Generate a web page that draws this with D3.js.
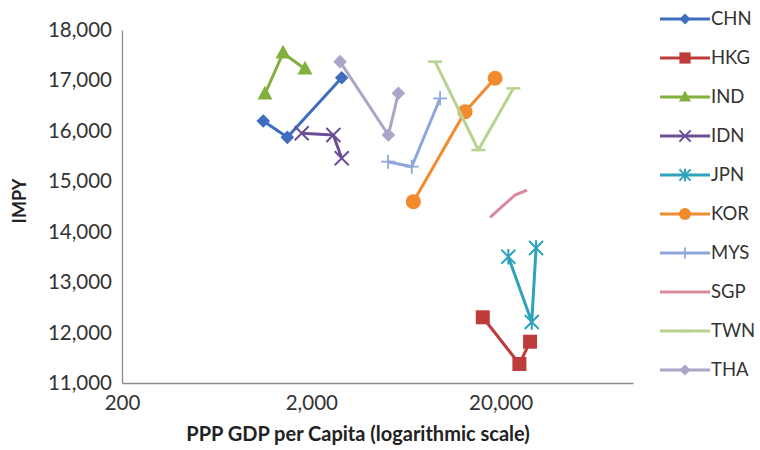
<!DOCTYPE html>
<html><head><meta charset="utf-8">
<script src="https://cdn.jsdelivr.net/npm/d3@7"></script>
<style>body{margin:0;background:#fff}svg{display:block}</style>
</head><body><svg id="c" width="760" height="450"></svg>
<script>
// ---- data ----
const seriesNames = ["CHN","HKG","IND","IDN","JPN","KOR","MYS","SGP","TWN","THA"];
const chnX = [1115, 1494, 2894],  chnY = [16196, 15872, 17054];
const hkgX = [16090, 25120, 28600], hkgY = [12303, 11377, 11819];
const indX = [1138, 1418, 1852],  indY = [16731, 17544, 17227];
const idnX = [1779, 2614, 2894],  idnY = [15952, 15918, 15456];
const jpnX = [21960, 29200, 30760], jpnY = [13505, 12210, 13677];
const korX = [6916, 12972, 18686], korY = [14596, 16380, 17042];
const mysX = [5085, 6784, 9572],  mysY = [15389, 15289, 16646];
const sgpX = [17580, 23840, 27580], sgpY = [14286, 14728, 14827];
const twnX = [9008, 15248, 23350], twnY = [17372, 15620, 16843];
const thaX = [2836, 5104, 5764],  thaY = [17372, 15918, 16745];
const xTicks = [200, 2000, 20000];
const yTicks = [11000, 12000, 13000, 14000, 15000, 16000, 17000, 18000];

const seriesX = [chnX,hkgX,indX,idnX,jpnX,korX,mysX,sgpX,twnX,thaX];
const seriesY = [chnY,hkgY,indY,idnY,jpnY,korY,mysY,sgpY,twnY,thaY];
const colors = ["#3E6DBE","#BE3B3B","#82B03E","#6B4E96","#2EA3BC","#F28B2E","#8EA7DB","#DA8A9C","#B8D290","#A9A6C8"];
const markers = ["diamond","square","triangle","x","star","circle","plus","none","dash","diamond"];

// ---- chart ----
const svg = d3.select("#c");
const font = "Lato, 'Open Sans', sans-serif";
const x = d3.scaleLog().domain([200, 100000]).range([122, 633]);
const y = d3.scaleLinear().domain([11000, 18000]).range([383, 30]);
const fmt = d3.format(",");

// axes
const xAxis = svg.append("g").attr("transform","translate(0,383)")
  .call(d3.axisBottom(x).tickValues(xTicks).tickFormat(fmt).tickSize(0).tickPadding(12));
const yAxis = svg.append("g").attr("transform","translate(122,0)")
  .call(d3.axisLeft(y).tickValues(yTicks).tickFormat(fmt).tickSize(0).tickPadding(10));
[xAxis,yAxis].forEach(a=>{
  a.select(".domain").attr("stroke","#8c8c8c").attr("stroke-width",1.3);
  a.selectAll("text").attr("font-family",font).attr("font-size",20.5).attr("fill","#333");
});

svg.append("text").attr("x",358).attr("y",441).attr("text-anchor","middle")
  .attr("font-family",font).attr("font-weight","bold").attr("font-size",20).attr("fill","#222")
  .text("PPP GDP per Capita (logarithmic scale)");
svg.append("text").attr("transform","translate(26,201) rotate(-90)").attr("text-anchor","middle")
  .attr("font-family",font).attr("font-weight","bold").attr("font-size",18).attr("fill","#222")
  .text("IMPY");

function drawMarker(g, type, color, cx, cy, s) {
  const h = s/2;
  if (type === "diamond") {
    g.append("path").attr("d",`M${cx},${cy-h*1.05}L${cx+h*1.05},${cy}L${cx},${cy+h*1.05}L${cx-h*1.05},${cy}Z`).attr("fill",color);
  } else if (type === "square") {
    g.append("rect").attr("x",cx-h).attr("y",cy-h).attr("width",s).attr("height",s).attr("fill",color);
  } else if (type === "triangle") {
    g.append("path").attr("d",`M${cx},${cy-h*1.1}L${cx+h},${cy+h*0.75}L${cx-h},${cy+h*0.75}Z`).attr("fill",color);
  } else if (type === "circle") {
    g.append("circle").attr("cx",cx).attr("cy",cy).attr("r",h).attr("fill",color);
  } else if (type === "x") {
    g.append("path").attr("d",`M${cx-h},${cy-h}L${cx+h},${cy+h}M${cx-h},${cy+h}L${cx+h},${cy-h}`).attr("stroke",color).attr("stroke-width",2);
  } else if (type === "star") {
    g.append("path").attr("d",`M${cx-h},${cy-h}L${cx+h},${cy+h}M${cx-h},${cy+h}L${cx+h},${cy-h}M${cx},${cy-h*1.1}L${cx},${cy+h*1.1}`).attr("stroke",color).attr("stroke-width",2);
  } else if (type === "plus") {
    g.append("path").attr("d",`M${cx-h},${cy}L${cx+h},${cy}M${cx},${cy-h}L${cx},${cy+h}`).attr("stroke",color).attr("stroke-width",1.8);
  } else if (type === "dash") {
    g.append("path").attr("d",`M${cx-h},${cy}L${cx+h},${cy}`).attr("stroke",color).attr("stroke-width",2.5);
  }
}
const sizes = {diamond:13, square:14, triangle:15, circle:15, x:14, star:14, plus:14, dash:14, none:0};

const line = d3.line().x(d=>x(d[0])).y(d=>y(d[1]));
seriesNames.forEach((name,i)=>{
  const pts = seriesX[i].map((v,j)=>[v, seriesY[i][j]]);
  const g = svg.append("g");
  g.append("path").datum(pts).attr("d",line).attr("fill","none")
    .attr("stroke",colors[i]).attr("stroke-width",3).attr("stroke-linejoin","round");
  pts.forEach(p=>drawMarker(g, markers[i], colors[i], x(p[0]), y(p[1]), sizes[markers[i]]));
});

// legend
const leg = svg.append("g");
seriesNames.forEach((name,i)=>{
  const ly = 19 + i*39;
  const g = leg.append("g");
  g.append("line").attr("x1",660).attr("x2",710).attr("y1",ly).attr("y2",ly)
    .attr("stroke",colors[i]).attr("stroke-width",3);
  drawMarker(g, markers[i], colors[i], 685, ly, sizes[markers[i]]*0.8);
  g.append("text").attr("x",711).attr("y",ly).attr("dy","0.35em")
    .attr("font-family",font).attr("font-size",18.5).attr("fill","#333").text(name);
});
</script></body></html>
